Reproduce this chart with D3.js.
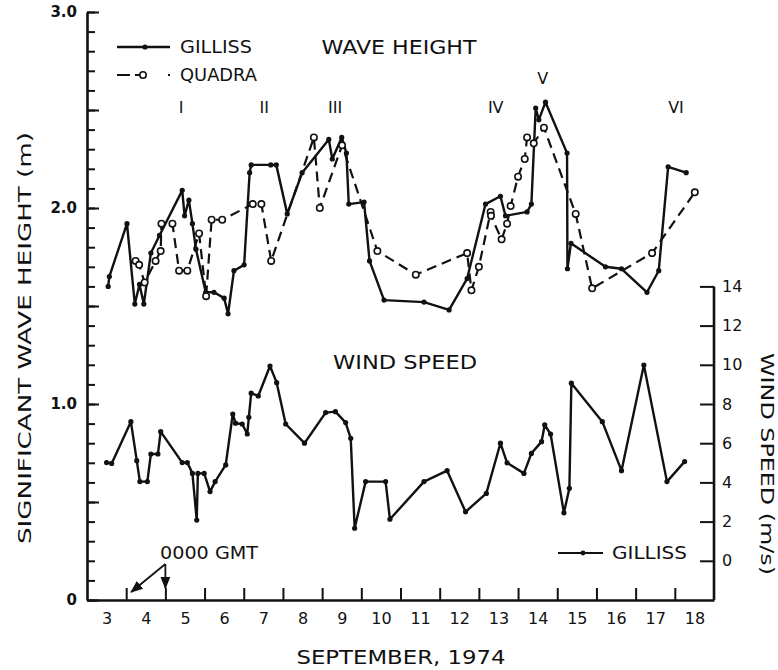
<!DOCTYPE html>
<html><head><meta charset="utf-8">
<script src="https://cdn.jsdelivr.net/npm/d3@7"></script>
<style>body{margin:0;background:#fff}text{font-family:"DejaVu Sans",sans-serif;fill:#111}</style>
</head><body>
<svg id="c" width="778" height="670"></svg>
<script>
// ---- data (time = day of September 1974, fractional, GMT) ----
const gillissT = [3.54,3.57,4.02,4.22,4.34,4.45,4.63,4.85,5.43,5.49,5.60,5.69,5.78,6.03,6.24,6.50,6.60,6.75,7.01,7.15,7.19,7.69,7.83,8.11,8.49,9.17,9.26,9.50,9.62,9.68,10.07,10.21,10.58,11.60,12.24,12.70,13.17,13.55,13.68,14.23,14.34,14.45,14.53,14.70,15.25,15.26,15.35,16.23,16.64,17.29,17.59,17.83,18.29];
const gillissH = [1.60,1.65,1.92,1.51,1.61,1.51,1.77,1.86,2.09,1.96,2.04,1.92,1.79,1.57,1.57,1.54,1.46,1.68,1.71,2.18,2.22,2.22,2.22,1.97,2.18,2.35,2.25,2.36,2.28,2.02,2.03,1.73,1.53,1.52,1.48,1.64,2.02,2.06,1.96,1.98,2.02,2.51,2.45,2.54,2.28,1.69,1.82,1.70,1.69,1.57,1.68,2.21,2.18];
const quadraT = [4.24,4.33,4.47,4.75,4.88,4.90,5.18,5.35,5.56,5.86,6.04,6.18,6.45,7.23,7.45,7.70,8.79,8.94,9.51,10.41,11.39,12.70,12.81,13.00,13.30,13.31,13.58,13.72,13.81,14.00,14.17,14.23,14.40,14.66,15.47,15.89,17.42,18.51];
const quadraH = [1.73,1.71,1.62,1.73,1.78,1.92,1.92,1.68,1.68,1.87,1.55,1.94,1.94,2.02,2.02,1.73,2.36,2.00,2.32,1.78,1.66,1.77,1.58,1.70,1.98,1.96,1.84,1.92,2.01,2.16,2.25,2.36,2.33,2.41,1.97,1.59,1.77,2.08];
const windT = [3.50,3.63,4.12,4.27,4.35,4.54,4.63,4.81,4.88,5.43,5.56,5.69,5.80,5.83,5.99,6.14,6.27,6.54,6.72,6.79,6.96,7.09,7.13,7.19,7.37,7.67,7.84,8.07,8.55,9.09,9.34,9.60,9.73,9.83,10.11,10.62,10.73,11.60,12.19,12.66,13.19,13.55,13.72,14.15,14.34,14.60,14.68,14.83,15.17,15.31,15.36,16.15,16.64,17.21,17.80,18.25];
const windV = [5.01,4.97,7.10,5.11,4.04,4.04,5.45,5.45,6.59,5.01,5.01,4.46,2.08,4.46,4.46,3.53,4.04,4.89,7.49,7.02,6.98,6.47,7.32,8.55,8.41,9.94,9.09,6.98,6.00,7.56,7.61,7.05,6.25,1.66,4.04,4.04,2.12,4.04,4.60,2.50,3.44,6.00,5.00,4.46,5.48,6.08,6.93,6.47,2.45,3.70,9.06,7.10,4.60,9.99,4.04,5.06];
const dayLabels = [3,4,5,6,7,8,9,10,11,12,13,14,15,16,17,18];
const dayTicks = [4,5,6,7,8,9,10,11,12,13,14,15,16,17,18];
const heightLabels = [0,1,2,3];
const windTicks = [0,2,4,6,8,10,12,14];
const numerals = ["I","II","III","IV","V","VI"];
const numeralT = [5.40,7.52,9.33,13.43,14.63,18.03];
const numeralH = [2.485,2.485,2.485,2.485,2.635,2.485];

// ---- scales ----
const svg = d3.select("#c");
const x = d3.scaleLinear().domain([3,19]).range([87,714]);
const yH = d3.scaleLinear().domain([0,3]).range([600,12]);
const yW = d3.scaleLinear().domain([-2,28]).range([600,12]); // wind speed shares the grid (0 m/s = 0.2 m)

const ink = "#111";
const style = g => { g.selectAll("path,line").attr("stroke",ink); g.selectAll("text").attr("fill",ink); };

// ---- left axis ----
const minor = d3.range(31).map(i=>i/10);
const major = d3.range(7).map(i=>i/2);
svg.append("g").attr("transform","translate(87,0)")
  .call(d3.axisLeft(yH).tickValues(minor).tickSize(-8).tickSizeOuter(0).tickFormat(""))
  .call(g=>g.select(".domain").attr("stroke-width",2.6))
  .call(g=>g.selectAll(".tick line").attr("stroke-width",2))
  .call(style);
svg.append("g").attr("transform","translate(87,0)")
  .call(d3.axisLeft(yH).tickValues(major).tickSize(-12).tickSizeOuter(0).tickFormat(""))
  .call(g=>g.select(".domain").remove())
  .call(g=>g.selectAll(".tick line").attr("stroke-width",2))
  .call(style);
svg.append("g").attr("transform","translate(87,0)")
  .call(d3.axisLeft(yH).tickValues(heightLabels).tickSize(0).tickPadding(10).tickFormat(d=>d===0?"0":d3.format(".1f")(d)))
  .call(g=>g.select(".domain").remove())
  .call(g=>g.selectAll("text").attr("font-size",15).attr("font-family","DejaVu Sans").attr("font-weight","bold"))
  .call(style);

// ---- bottom axis ----
svg.append("g").attr("transform","translate(0,600)")
  .call(d3.axisBottom(x).tickValues(dayTicks).tickSize(-12).tickSizeOuter(0).tickFormat(""))
  .call(g=>g.select(".domain").attr("stroke-width",2.6))
  .call(g=>g.selectAll(".tick line").attr("stroke-width",2))
  .call(style);
svg.append("g").attr("transform","translate(0,600)")
  .call(d3.axisBottom(x).tickValues(dayLabels.map(d=>d+0.5)).tickSize(0).tickPadding(13).tickFormat(d=>Math.floor(d)))
  .call(g=>g.select(".domain").remove())
  .call(g=>g.selectAll("text").attr("font-size",16).attr("font-family","DejaVu Sans"))
  .call(style);

// ---- right axis (wind speed) ----
svg.append("line").attr("x1",714).attr("x2",714).attr("y1",yW(14)).attr("y2",600)
  .attr("stroke",ink).attr("stroke-width",2.6);
svg.append("g").attr("transform","translate(714,0)")
  .call(d3.axisRight(yW).tickValues(windTicks).tickSize(-14).tickPadding(8).tickFormat(d=>d))
  .call(g=>g.select(".domain").remove())
  .call(g=>g.selectAll(".tick line").attr("stroke-width",2))
  .call(g=>g.selectAll("text").attr("font-size",16).attr("font-family","DejaVu Sans"))
  .call(style);

// ---- axis titles ----
svg.append("text").attr("transform","translate(25,338) rotate(-90)")
  .attr("text-anchor","middle").attr("dominant-baseline","central")
  .attr("font-size",17).attr("textLength",412).attr("lengthAdjust","spacingAndGlyphs")
  .text("SIGNIFICANT WAVE HEIGHT (m)");
svg.append("text").attr("transform","translate(767,464) rotate(90)")
  .attr("text-anchor","middle").attr("dominant-baseline","central")
  .attr("font-size",17).attr("textLength",222).attr("lengthAdjust","spacingAndGlyphs")
  .text("WIND SPEED (m/s)");
svg.append("text").attr("x",401).attr("y",664).attr("text-anchor","middle")
  .attr("font-size",19).attr("textLength",209).attr("lengthAdjust","spacingAndGlyphs")
  .text("SEPTEMBER, 1974");

// ---- lines ----
const gData = gillissT.map((t,i)=>({t,v:gillissH[i]}));
const qData = quadraT.map((t,i)=>({t,v:quadraH[i]}));
const wData = windT.map((t,i)=>({t,v:windV[i]}));
const lineH = d3.line().x(d=>x(d.t)).y(d=>yH(d.v));
const lineW = d3.line().x(d=>x(d.t)).y(d=>yW(d.v));

svg.append("path").datum(qData).attr("d",lineH).attr("fill","none")
  .attr("stroke",ink).attr("stroke-width",2.2).attr("stroke-dasharray","10,6");
svg.append("path").datum(gData).attr("d",lineH).attr("fill","none")
  .attr("stroke",ink).attr("stroke-width",2.4).attr("stroke-linejoin","round");
svg.append("path").datum(wData).attr("d",lineW).attr("fill","none")
  .attr("stroke",ink).attr("stroke-width",2.4).attr("stroke-linejoin","round");

svg.append("g").selectAll("circle").data(gData).join("circle")
  .attr("cx",d=>x(d.t)).attr("cy",d=>yH(d.v)).attr("r",2.6).attr("fill",ink);
svg.append("g").selectAll("circle").data(wData).join("circle")
  .attr("cx",d=>x(d.t)).attr("cy",d=>yW(d.v)).attr("r",2.6).attr("fill",ink);
svg.append("g").selectAll("circle").data(qData).join("circle")
  .attr("cx",d=>x(d.t)).attr("cy",d=>yH(d.v)).attr("r",3.2)
  .attr("fill","#fff").attr("stroke",ink).attr("stroke-width",1.6);

// ---- titles in plot ----
svg.append("text").attr("x",399).attr("y",54).attr("text-anchor","middle")
  .attr("font-size",20).attr("textLength",155).attr("lengthAdjust","spacingAndGlyphs").text("WAVE HEIGHT");
svg.append("text").attr("x",405).attr("y",369).attr("text-anchor","middle")
  .attr("font-size",20).attr("textLength",144).attr("lengthAdjust","spacingAndGlyphs").text("WIND SPEED");

// roman numerals
svg.append("g").selectAll("text").data(numerals).join("text")
  .attr("x",(d,i)=>x(numeralT[i])).attr("y",(d,i)=>yH(numeralH[i]))
  .attr("text-anchor","middle").attr("font-size",16).text(d=>d);

// ---- legend (top) ----
const lg = svg.append("g");
lg.append("line").attr("x1",117).attr("x2",170).attr("y1",47).attr("y2",47).attr("stroke",ink).attr("stroke-width",2.4);
lg.append("circle").attr("cx",145).attr("cy",47).attr("r",2.6).attr("fill",ink);
lg.append("text").attr("x",180).attr("y",47).attr("dominant-baseline","central")
  .attr("font-size",17).attr("textLength",72).attr("lengthAdjust","spacingAndGlyphs").text("GILLISS");
lg.append("line").attr("x1",117).attr("x2",170).attr("y1",75).attr("y2",75).attr("stroke",ink).attr("stroke-width",2.2).attr("stroke-dasharray","13,5,7,26,7,5,13");
lg.append("circle").attr("cx",143).attr("cy",75).attr("r",3.2).attr("fill","#fff").attr("stroke",ink).attr("stroke-width",1.6);
lg.append("text").attr("x",180).attr("y",75).attr("dominant-baseline","central")
  .attr("font-size",17).attr("textLength",77).attr("lengthAdjust","spacingAndGlyphs").text("QUADRA");

// ---- legend (bottom right) ----
const lb = svg.append("g");
lb.append("line").attr("x1",558).attr("x2",603).attr("y1",553).attr("y2",553).attr("stroke",ink).attr("stroke-width",2.2);
lb.append("circle").attr("cx",583).attr("cy",553).attr("r",2.4).attr("fill",ink);
lb.append("text").attr("x",612).attr("y",553).attr("dominant-baseline","central")
  .attr("font-size",17).attr("textLength",75).attr("lengthAdjust","spacingAndGlyphs").text("GILLISS");

// ---- 0000 GMT annotation ----
svg.append("text").attr("x",160).attr("y",553).attr("dominant-baseline","central")
  .attr("font-size",17).attr("textLength",98).attr("lengthAdjust","spacingAndGlyphs").text("0000 GMT");
const defs = svg.append("defs");
defs.append("marker").attr("id","ah").attr("viewBox","0 0 10 10").attr("refX",9).attr("refY",5)
  .attr("markerWidth",7).attr("markerHeight",7).attr("orient","auto-start-reverse")
  .append("path").attr("d","M0,1 L10,5 L0,9 z").attr("fill",ink);
const ax0 = x(5), ay0 = yH(0) - 36;
svg.append("line").attr("x1",ax0).attr("y1",ay0).attr("x2",x(4)+5).attr("y2",yH(0)-8)
  .attr("stroke",ink).attr("stroke-width",1.8).attr("marker-end","url(#ah)");
svg.append("line").attr("x1",ax0).attr("y1",ay0).attr("x2",ax0).attr("y2",yH(0)-12)
  .attr("stroke",ink).attr("stroke-width",1.8).attr("marker-end","url(#ah)");
</script>
</body></html>
